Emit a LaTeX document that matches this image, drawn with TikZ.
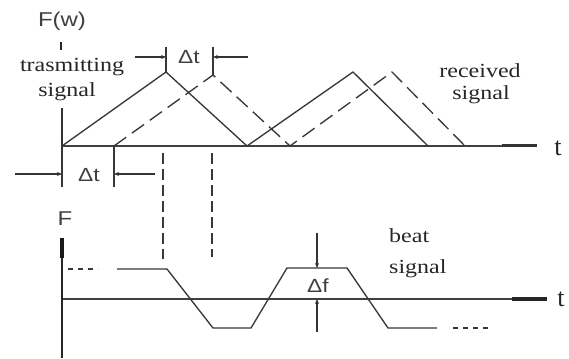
\documentclass[tikz,border=0pt]{standalone}
\usepackage{graphicx}
\usepackage{fontspec}
\setmainfont{Liberation Serif}
\newfontfamily\arialf{Liberation Sans}
\usetikzlibrary{arrows.meta}
\newcommand{\sx}[1]{\scalebox{1.2}[1]{#1}}
\begin{document}
\begin{tikzpicture}[x=1pt,y=-1pt,
  ln/.style={draw=black!78, line width=1.35pt, line join=round},
  dsh/.style={ln, dash pattern=on 15pt off 7pt},
  vdsh/.style={ln, dash pattern=on 11pt off 5pt},
  dots/.style={ln, dash pattern=on 5pt off 5pt},
  axis/.style={draw=black!75, line width=1.9pt},
  dim/.style={draw=black!80, line width=1.2pt, -{Stealth[length=5pt,width=4pt]}},
  serif/.style={inner sep=0pt, anchor=base, font=\fontsize{20}{22}\selectfont, text=black!85},
  sans/.style={inner sep=0pt, font=\arialf\fontsize{19}{21}\selectfont, text=black!75},
  tlab/.style={inner sep=0pt, anchor=base, font=\fontsize{26}{28}\selectfont, text=black!85}]
\useasboundingbox (0,0) rectangle (569,358);

% ---------- coordinates: top plot ----------
\coordinate (O1) at (62,146);
\coordinate (X1) at (537,146);
\coordinate (X1t) at (502,146);
\coordinate (Y1a) at (62,108);
\coordinate (Y1b) at (61,42);
\coordinate (Y1c) at (61,50);
\coordinate (P1) at (166,72);
\coordinate (Q1) at (247,146);
\coordinate (P2) at (353,72);
\coordinate (Q2) at (428,146);
\coordinate (D0) at (114,146);
\coordinate (DP1) at (213,75);
\coordinate (DQ1) at (290,146);
\coordinate (DP2) at (392,72);
\coordinate (DQ2) at (465,146);

% ---------- coordinates: bottom plot ----------
\coordinate (O2) at (62,299);
\coordinate (X2) at (547,299);
\coordinate (X2t) at (512,299);
\coordinate (Y2a) at (62,238);
\coordinate (Y2b) at (62,258);
\coordinate (Y2c) at (62,358);
\coordinate (B0) at (117,269);
\coordinate (B1) at (167,269);
\coordinate (B2) at (213,328);
\coordinate (B3) at (251,328);
\coordinate (B4) at (287,268);
\coordinate (B5) at (347,268);
\coordinate (B6) at (388,328);
\coordinate (B7) at (437,328);

% ---------- top axes ----------
\draw[axis] (O1) -- (X1);
\draw[draw=black!80, line width=3pt] (X1t) -- (X1);
\draw[draw=black!80, line width=2.2pt] (Y1a) -- (O1);
\draw[draw=black!85, line width=2.8pt] (Y1b) -- (Y1c);

% transmitted (solid) and received (dashed)
\draw[ln] (O1) -- (P1) -- (Q1) -- (P2) -- (Q2);
\draw[dsh] (D0) -- (DP1) -- (DQ1) -- (DP2) -- (DQ2);

% top delta t
\coordinate (ta1) at (166,47);
\coordinate (ta2) at (213,47);
\coordinate (tl) at (135,57);
\coordinate (tlE) at (166,57);
\coordinate (tr) at (248,57);
\coordinate (trE) at (213,57);
\draw[ln] (ta1) -- (P1);
\draw[ln] (ta2) -- (DP1);
\draw[dim] (tl) -- (tlE);
\draw[dim] (tr) -- (trE);
\node[sans] (dt1) at (189,57) {\sx{Δt}};

% bottom delta t
\coordinate (bt1) at (62,187);
\coordinate (bt2) at (114,187);
\coordinate (bl) at (15,174);
\coordinate (blE) at (62,174);
\coordinate (br) at (155,174);
\coordinate (brE) at (114,174);
\draw[ln] (O1) -- (bt1);
\draw[ln] (D0) -- (bt2);
\draw[dim] (bl) -- (blE);
\draw[dim] (br) -- (brE);
\node[sans] (dt2) at (89,175) {\sx{Δt}};

% dashed projection lines
\coordinate (v1a) at (163,153);
\coordinate (v1b) at (163,259);
\coordinate (v2a) at (212,153);
\coordinate (v2b) at (212,257);
\draw[vdsh] (v1a) -- (v1b);
\draw[vdsh] (v2a) -- (v2b);

% ---------- bottom axes ----------
\draw[axis] (O2) -- (X2);
\draw[draw=black!85, line width=3.5pt] (X2t) -- (X2);
\draw[draw=black!85, line width=2.2pt] (Y2a) -- (Y2c);
\draw[draw=black!90, line width=4pt] (Y2a) -- (Y2b);

% beat signal
\coordinate (d1a) at (68,269);
\coordinate (d1b) at (98,269);
\coordinate (d2a) at (453,328);
\coordinate (d2b) at (490,328);
\draw[dots] (d1a) -- (d1b);
\draw[ln] (B0) -- (B1) -- (B2) -- (B3) -- (B4) -- (B5) -- (B6) -- (B7);
\draw[dots] (d2a) -- (d2b);

% delta f
\coordinate (f1) at (317,233);
\coordinate (f1E) at (317,268);
\coordinate (f2) at (317,332);
\coordinate (f2E) at (317,299);
\draw[dim] (f1) -- (f1E);
\draw[dim] (f2) -- (f2E);
\node[sans] (df) at (318,286) {\sx{Δf}};

% ---------- labels ----------
\node[sans, font=\arialf\fontsize{20}{22}\selectfont] (Fw) at (62,21) {\sx{F(w)}};
\node[sans, font=\arialf\fontsize{20}{22}\selectfont] (F) at (65,219) {\sx{F}};
\node[serif] (tr1) at (72,72) {\sx{trasmitting}};
\node[serif] (tr2) at (67,97) {\sx{signal}};
\node[serif] (rc1) at (480,78) {\sx{received}};
\node[serif] (rc2) at (481,100) {\sx{signal}};
\node[serif, anchor=base west] (bt1l) at (389,242) {\sx{beat}};
\node[serif, anchor=base west] (bt2l) at (389,273) {\sx{signal}};
\node[tlab] (t1) at (558,155) {t};
\node[tlab] (t2) at (561,306) {t};
\end{tikzpicture}
\end{document}
